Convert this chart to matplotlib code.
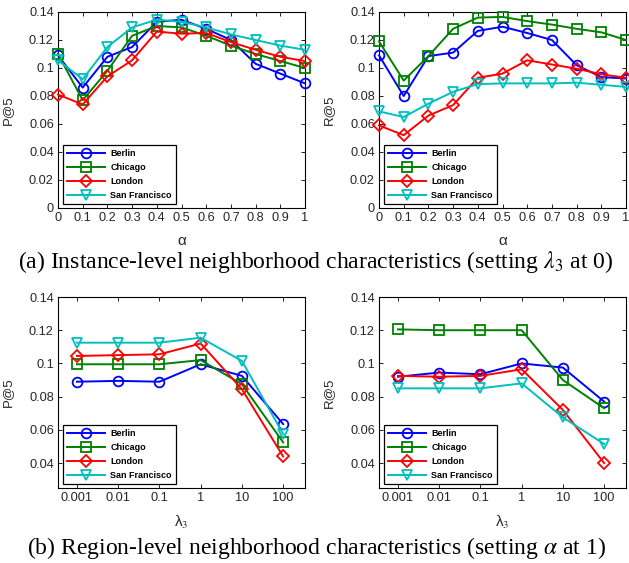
import matplotlib
matplotlib.use("Agg")
import matplotlib.pyplot as plt
import numpy as np

plt.rcParams['font.family'] = ['Liberation Sans', 'DejaVu Sans']
plt.rcParams['mathtext.fontset'] = 'stix'

cities = ["Berlin", "Chicago", "London", "San Francisco"]
colors = ["#0000ff", "#008000", "#ff0000", "#00bfbf"]
markers = ["o", "s", "D", "v"]

alpha_vals = [0, 0.1, 0.2, 0.3, 0.4, 0.5, 0.6, 0.7, 0.8, 0.9, 1.0]
alpha_ticks = ["0", "0.1", "0.2", "0.3", "0.4", "0.5", "0.6", "0.7", "0.8", "0.9", "1"]

p5_alpha_berlin = [0.109, 0.086, 0.108, 0.115, 0.133, 0.1345, 0.128, 0.120, 0.103, 0.096, 0.089]
p5_alpha_chicago = [0.110, 0.077, 0.098, 0.123, 0.130, 0.129, 0.123, 0.116, 0.110, 0.105, 0.100]
p5_alpha_london = [0.081, 0.074, 0.094, 0.1055, 0.126, 0.1245, 0.125, 0.1185, 0.113, 0.108, 0.105]
p5_alpha_sf = [0.1055, 0.092, 0.115, 0.129, 0.1345, 0.133, 0.129, 0.124, 0.120, 0.116, 0.113]

r5_alpha_berlin = [0.109, 0.080, 0.1085, 0.111, 0.1265, 0.1295, 0.125, 0.120, 0.102, 0.0935, 0.0925]
r5_alpha_chicago = [0.119, 0.091, 0.1085, 0.128, 0.136, 0.1365, 0.1335, 0.131, 0.128, 0.1255, 0.120]
r5_alpha_london = [0.059, 0.052, 0.066, 0.0735, 0.093, 0.096, 0.1055, 0.1025, 0.0995, 0.0955, 0.093]
r5_alpha_sf = [0.069, 0.065, 0.0745, 0.083, 0.0885, 0.089, 0.089, 0.089, 0.0895, 0.088, 0.0865]

lam_ticks = ["0.001", "0.01", "0.1", "1", "10", "100"]

p5_lam_berlin = [0.089, 0.0895, 0.089, 0.0995, 0.0925, 0.0635]
p5_lam_chicago = [0.0995, 0.0995, 0.0995, 0.102, 0.0875, 0.0525]
p5_lam_london = [0.1045, 0.105, 0.1055, 0.112, 0.0845, 0.044]
p5_lam_sf = [0.1125, 0.1125, 0.1125, 0.1155, 0.1015, 0.0575]

r5_lam_berlin = [0.092, 0.0945, 0.0935, 0.100, 0.0975, 0.077]
r5_lam_chicago = [0.1205, 0.120, 0.120, 0.120, 0.090, 0.073]
r5_lam_london = [0.0925, 0.092, 0.0925, 0.0965, 0.072, 0.040]
r5_lam_sf = [0.085, 0.085, 0.085, 0.088, 0.0675, 0.0515]

W, H = 629, 563
fig = plt.figure(figsize=(W / 100, H / 100), dpi=100)

def add_ax(l, t, r, b):
    return fig.add_axes([l / W, 1 - b / H, (r - l) / W, (b - t) / H])

tick_col = "#262626"

def style(ax):
    ax.tick_params(direction="in", length=3, width=0.6, top=True, right=True,
                   labelsize=9.2, colors="black", labelcolor=tick_col, pad=3)
    for s in ax.spines.values():
        s.set_linewidth(0.8)

def draw(ax, x, series, xticks, xlabels, ylim, yticks, ylab, xlab, xlim):
    handles = []
    for vals, c, m, name in zip(series, colors, markers, cities):
        h, = ax.plot(x, vals, color=c, marker=m, markersize=7 if m != "D" else 6,
                     markerfacecolor="none", markeredgewidth=1.3, linewidth=1.4,
                     label=name, clip_on=False, zorder=3)
        handles.append(h)
    ax.set_xlim(*xlim)
    ax.set_ylim(*ylim)
    ax.set_xticks(xticks)
    ax.set_xticklabels(xlabels)
    ax.set_yticks(yticks)
    ax.set_yticklabels([("%g" % v) for v in yticks])
    style(ax)
    ax.set_ylabel(ylab, fontsize=9.5, color=tick_col)
    ax.set_xlabel(xlab, fontsize=11, color=tick_col)
    ax.yaxis.set_label_coords(-0.178, 0.5)
    ax.xaxis.set_label_coords(0.5, -0.135)
    leg = ax.legend(handles=handles, loc="lower left", bbox_to_anchor=(0.02, 0.02),
                    borderaxespad=0, fancybox=False, framealpha=1, edgecolor="black",
                    prop={"weight": "bold", "size": 6.5}, handlelength=4.2,
                    labelspacing=0.55, borderpad=0.45, handletextpad=0.6)
    leg.get_frame().set_linewidth(0.9)
    leg.set_zorder(5)

top_yt = [0, 0.02, 0.04, 0.06, 0.08, 0.1, 0.12, 0.14]
bot_yt = [0.04, 0.06, 0.08, 0.1, 0.12, 0.14]

ax1 = add_ax(58, 12, 305, 208)
draw(ax1, alpha_vals, [p5_alpha_berlin, p5_alpha_chicago, p5_alpha_london, p5_alpha_sf],
     alpha_vals, alpha_ticks, (0, 0.14), top_yt, "P@5", "α", (0, 1))

ax2 = add_ax(379, 12, 626, 208)
draw(ax2, alpha_vals, [r5_alpha_berlin, r5_alpha_chicago, r5_alpha_london, r5_alpha_sf],
     alpha_vals, alpha_ticks, (0, 0.14), top_yt, "R@5", "α", (0, 1))

xl = np.arange(len(lam_ticks))
ax3 = add_ax(58, 297, 305, 488)
draw(ax3, xl, [p5_lam_berlin, p5_lam_chicago, p5_lam_london, p5_lam_sf],
     xl, lam_ticks, (0.025, 0.14), bot_yt, "P@5", "λ$_3$", (-0.46, 5.53))

ax4 = add_ax(379, 297, 626, 488)
draw(ax4, xl, [r5_lam_berlin, r5_lam_chicago, r5_lam_london, r5_lam_sf],
     xl, lam_ticks, (0.025, 0.14), bot_yt, "R@5", "λ$_3$", (-0.46, 5.53))

fig.text(316 / W, 1 - 262 / H,
         r"(a) Instance-level neighborhood characteristics (setting $\lambda_3$ at 0)",
         ha="center", va="center", fontsize=17, family="Liberation Serif")
fig.text(316 / W, 1 - 548 / H,
         r"(b) Region-level neighborhood characteristics (setting $\alpha$ at 1)",
         ha="center", va="center", fontsize=17, family="Liberation Serif")

fig.savefig("out.png", dpi=100)
